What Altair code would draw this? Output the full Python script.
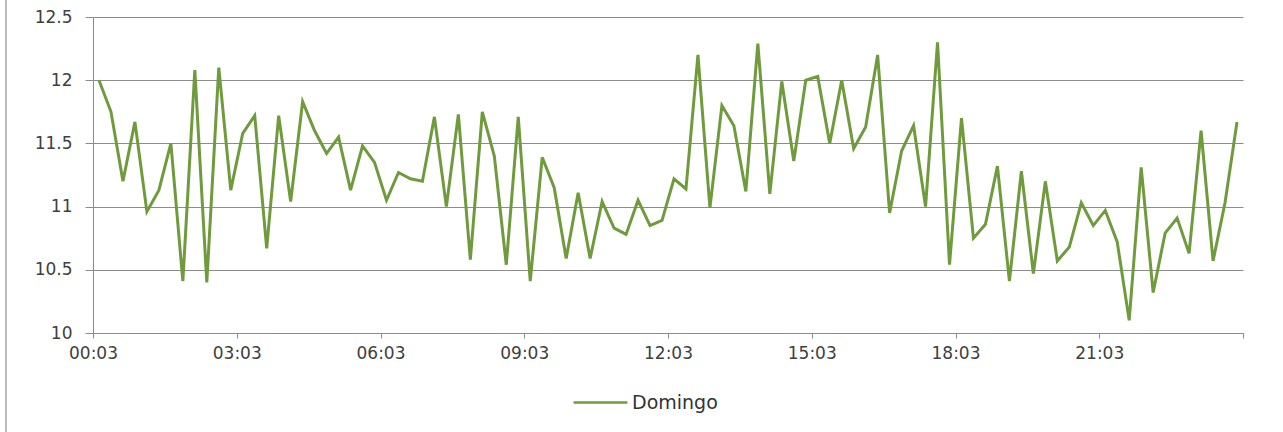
import json
import altair as alt
import pandas as pd

# Readings every 15 minutes, starting at 00:03
times = [f"{(3 + 15 * i) // 60:02d}:{(3 + 15 * i) % 60:02d}" for i in range(96)]

domingo = [
    12.0, 11.75, 11.2, 11.67, 10.96, 11.13, 11.5, 10.41, 12.08, 10.4,
    12.1, 11.13, 11.58, 11.72, 10.67, 11.72, 11.04, 11.83, 11.6, 11.42,
    11.55, 11.13, 11.48, 11.35, 11.05, 11.27, 11.22, 11.2, 11.71, 11.0,
    11.73, 10.58, 11.75, 11.4, 10.54, 11.71, 10.41, 11.39, 11.15, 10.59,
    11.11, 10.59, 11.04, 10.83, 10.78, 11.05, 10.85, 10.89, 11.22, 11.14,
    12.2, 10.99, 11.8, 11.64, 11.12, 12.29, 11.1, 11.99, 11.36, 12.0,
    12.03, 11.5, 12.0, 11.46, 11.63, 12.2, 10.95, 11.44, 11.64, 11.0,
    12.3, 10.54, 11.7, 10.75, 10.86, 11.32, 10.41, 11.28, 10.47, 11.2,
    10.57, 10.68, 11.03, 10.85, 10.97, 10.72, 10.1, 11.31, 10.32, 10.79,
    10.91, 10.63, 11.6, 10.57, 11.03, 11.67,
]

series_name = "Domingo"
tick_labels = times[::12] + [""]  # 00:03, 03:03, ... 21:03, end tick

df = pd.DataFrame({
    "idx": list(range(len(times))),
    "hora": times,
    "valor": domingo,
    "serie": [series_name] * len(times),
})

GREEN = "#6f9b3d"
GRID = "#8c8c8c"
FONT = "DejaVu Sans"

label_expr = f"{json.dumps(tick_labels)}[round(datum.value / 12)]"

line = alt.Chart(df).transform_calculate(
    pos="datum.idx + 0.5"  # each reading sits in the middle of its slot
).mark_line(strokeWidth=3).encode(
    x=alt.X(
        "pos:Q",
        scale=alt.Scale(domain=[0, 96], nice=False, zero=False),
        axis=alt.Axis(
            values=list(range(0, 97, 12)),
            labelExpr=label_expr,
            labelFlush=False,
            grid=False,
            title=None,
            tickSize=5,
            labelPadding=7,
            labelFontSize=17,
            labelColor="#404040",
            labelFont=FONT,
            domainColor=GRID,
            tickColor=GRID,
        ),
    ),
    y=alt.Y(
        "valor:Q",
        scale=alt.Scale(domain=[10, 12.5], nice=False, zero=False),
        axis=alt.Axis(
            values=[10, 10.5, 11, 11.5, 12, 12.5],
            labelExpr="datum.value",
            labelFlush=False,
            title=None,
            tickSize=8,
            labelPadding=13,
            labelFontSize=17,
            labelColor="#404040",
            labelFont=FONT,
            gridColor=GRID,
            gridWidth=1,
            domainColor=GRID,
            tickColor=GRID,
        ),
    ),
    color=alt.Color(
        "serie:N",
        scale=alt.Scale(domain=[series_name], range=[GREEN]),
        legend=alt.Legend(
            title=None,
            orient="none",
            legendX=479,
            legendY=357,
            symbolType="stroke",
            symbolSize=2900,
            symbolStrokeWidth=2.5,
            labelFontSize=19,
            labelFont=FONT,
            labelColor="#333333",
            labelOffset=3,
        ),
    ),
    order="idx:Q",
)

# thin frame line on the left edge of the chart area
frame = alt.Chart(pd.DataFrame({"k": [0]})).mark_rule(
    color="#a6a6a6", strokeWidth=1.5
).encode(x=alt.value(-87), y=alt.value(-17), y2=alt.value(415))

chart = alt.layer(frame, line).properties(
    width=1150,
    height=316,
    padding={"left": 93, "top": 17, "right": 40, "bottom": 99},
    autosize=alt.AutoSizeParams(type="none"),
    background="white",
).configure_view(stroke=None)

chart.save("out.html", embed_options={"renderer": "svg", "actions": False})
